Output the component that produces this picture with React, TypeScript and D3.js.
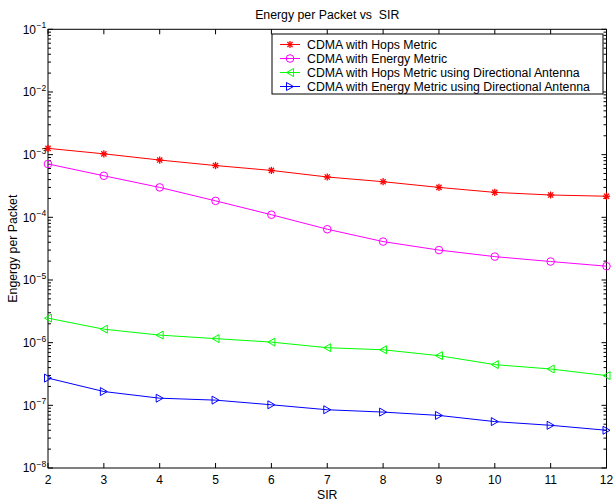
import React from "react";
import * as d3 from "d3";

const sir = [2, 3, 4, 5, 6, 7, 8, 9, 10, 11, 12];
const hopsMetric = [1.26e-3, 1.03e-3, 8.2e-4, 6.7e-4, 5.6e-4, 4.4e-4, 3.7e-4, 3.0e-4, 2.5e-4, 2.27e-4, 2.17e-4];
const energyMetric = [7.1e-4, 4.6e-4, 3.0e-4, 1.83e-4, 1.1e-4, 6.45e-5, 4.1e-5, 3.0e-5, 2.36e-5, 1.97e-5, 1.66e-5];
const hopsDir = [2.46e-6, 1.64e-6, 1.32e-6, 1.16e-6, 1.02e-6, 8.3e-7, 7.7e-7, 6.2e-7, 4.46e-7, 3.8e-7, 2.98e-7];
const energyDir = [2.72e-7, 1.66e-7, 1.3e-7, 1.21e-7, 1.02e-7, 8.5e-8, 7.8e-8, 6.9e-8, 5.5e-8, 4.8e-8, 4.0e-8];
const seriesNames = [
  "CDMA with Hops Metric",
  "CDMA with Energy Metric",
  "CDMA with Hops Metric using Directional Antenna",
  "CDMA with Energy Metric using Directional Antenna",
];
const xTicks = [2, 3, 4, 5, 6, 7, 8, 9, 10, 11, 12];
const yExponents = [-1, -2, -3, -4, -5, -6, -7, -8];

const W = 613, H = 502;
const L = 48, R = 606.5, T = 29.3, B = 468;
const FONT = "'Liberation Sans', Arial, Helvetica, sans-serif";

type Mk = "star" | "circle" | "triL" | "triR";
const series: { name: string; values: number[]; color: string; marker: Mk }[] = [
  { name: seriesNames[0], values: hopsMetric, color: "#ff0000", marker: "star" },
  { name: seriesNames[1], values: energyMetric, color: "#ff00ff", marker: "circle" },
  { name: seriesNames[2], values: hopsDir, color: "#00ff00", marker: "triL" },
  { name: seriesNames[3], values: energyDir, color: "#0000ff", marker: "triR" },
];

function Marker({ type, x, y, color }: { type: Mk; x: number; y: number; color: string }) {
  if (type === "star") {
    const a = 3.6, d = 2.6;
    return (
      <g stroke={color} strokeWidth={1.3}>
        <line x1={x - a} y1={y} x2={x + a} y2={y} />
        <line x1={x} y1={y - a} x2={x} y2={y + a} />
        <line x1={x - d} y1={y - d} x2={x + d} y2={y + d} />
        <line x1={x - d} y1={y + d} x2={x + d} y2={y - d} />
      </g>
    );
  }
  if (type === "circle") {
    return <circle cx={x} cy={y} r={3.8} fill="none" stroke={color} strokeWidth={1} />;
  }
  if (type === "triL") {
    const p = `${x - 3.5},${y} ${x + 3.5},${y - 4} ${x + 3.5},${y + 4}`;
    return <polygon points={p} fill="none" stroke={color} strokeWidth={1} />;
  }
  const p = `${x + 3.5},${y} ${x - 3.5},${y - 4} ${x - 3.5},${y + 4}`;
  return <polygon points={p} fill="none" stroke={color} strokeWidth={1} />;
}

export default function App() {
  const x = d3.scaleLinear().domain([2, 12]).range([L, R]);
  const y = d3.scaleLog().domain([1e-8, 1e-1]).range([B, T]);
  const line = d3
    .line<number>()
    .x((_, i) => x(sir[i]))
    .y((v) => y(v));

  const minor: number[] = [];
  for (let e = -8; e < -1; e++) {
    for (let m = 2; m <= 9; m++) minor.push(m * Math.pow(10, e));
  }

  const lgX = 272, lgY = 34, lgW = 331, lgH = 60;
  const rowY = [44.5, 58.5, 72.5, 86.5];

  return (
    <svg width={W} height={H} style={{ position: "absolute", left: 0, top: 0, display: "block" }} fontFamily={FONT}>
      <rect x={0} y={0} width={W} height={H} fill="#fff" />
      {/* ticks */}
      <g stroke="#000" strokeWidth={1}>
        {xTicks.map((t) => (
          <g key={"xt" + t}>
            <line x1={x(t)} y1={B} x2={x(t)} y2={B - 5} />
            <line x1={x(t)} y1={T} x2={x(t)} y2={T + 5} />
          </g>
        ))}
        {yExponents.map((e) => (
          <g key={"yt" + e}>
            <line x1={L} y1={y(Math.pow(10, e))} x2={L + 5} y2={y(Math.pow(10, e))} />
            <line x1={R} y1={y(Math.pow(10, e))} x2={R - 5} y2={y(Math.pow(10, e))} />
          </g>
        ))}
        {minor.map((v, i) => (
          <g key={"mt" + i}>
            <line x1={L} y1={y(v)} x2={L + 3} y2={y(v)} />
            <line x1={R} y1={y(v)} x2={R - 3} y2={y(v)} />
          </g>
        ))}
      </g>
      <rect x={L} y={T} width={R - L} height={B - T} fill="none" stroke="#000" strokeWidth={1} />
      {/* series */}
      {series.map((s) => (
        <g key={s.name}>
          <path d={line(s.values) || ""} fill="none" stroke={s.color} strokeWidth={1} />
          {s.values.map((v, i) => (
            <Marker key={i} type={s.marker} x={x(sir[i])} y={y(v)} color={s.color} />
          ))}
        </g>
      ))}
      {/* x tick labels */}
      {xTicks.map((t) => (
        <text key={"xl" + t} x={x(t)} y={484} fontSize={12} textAnchor="middle" fill="#000">
          {t}
        </text>
      ))}
      {/* y tick labels */}
      {yExponents.map((e) => (
        <g key={"yl" + e}>
          <text x={36} y={y(Math.pow(10, e)) + 4.3} fontSize={12} textAnchor="end" fill="#000">
            10
          </text>
          <text x={36.5} y={y(Math.pow(10, e)) - 1} fontSize={8.5} textAnchor="start" fill="#000">
            {"\u2212" + Math.abs(e)}
          </text>
        </g>
      ))}
      {/* title and labels */}
      <text x={(L + R) / 2} y={18.5} fontSize={12.3} textAnchor="middle" fill="#000" style={{ whiteSpace: "pre" }}>
        {"Energy per Packet vs  SIR"}
      </text>
      <text x={(L + R) / 2} y={499} fontSize={12.3} textAnchor="middle" fill="#000">
        SIR
      </text>
      <text
        transform={`translate(16.5, ${(T + B) / 2}) rotate(-90)`}
        fontSize={12.3}
        textAnchor="middle"
        fill="#000"
      >
        Engergy per Packet
      </text>
      {/* legend */}
      <rect x={lgX} y={lgY} width={lgW} height={lgH} fill="#fff" stroke="#000" strokeWidth={1} />
      {series.map((s, i) => (
        <g key={"lg" + i}>
          <line x1={280} y1={rowY[i]} x2={300} y2={rowY[i]} stroke={s.color} strokeWidth={1} />
          <Marker type={s.marker} x={290} y={rowY[i]} color={s.color} />
          <text x={307} y={rowY[i] + 4.3} fontSize={12.3} fill="#000">
            {s.name}
          </text>
        </g>
      ))}
    </svg>
  );
}
